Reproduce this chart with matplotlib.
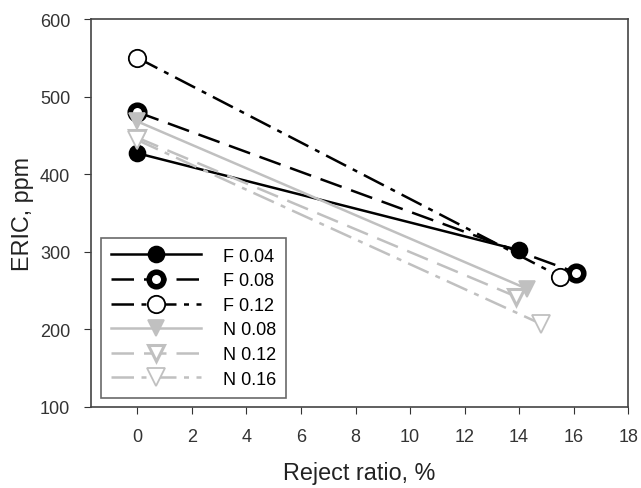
import numpy as np
import matplotlib.pyplot as plt

plt.rcParams['font.family'] = ['Liberation Sans', 'DejaVu Sans']

# 데이터
labels = ['F 0.04', 'F 0.08', 'F 0.12', 'N 0.08', 'N 0.12', 'N 0.16']
x_vals = [[0, 14.0], [0, 16.1], [0, 15.5], [0, 14.3], [0, 13.9], [0, 14.8]]
y_vals = [[427, 302], [480, 273], [550, 268], [468, 252], [447, 242], [444, 207]]

gray = '#c0c0c0'
styles = [
    dict(color='black', ls='-', marker='o', mfc='black', mec='black', ms=11.5, mew=1.2),
    dict(color='black', ls=(0, (9, 4)), marker='o', mfc='white', mec='black', ms=10.5, mew=4),
    dict(color='black', ls=(0, (9, 3, 2, 3)), marker='o', mfc='white', mec='black', ms=12.5, mew=1.3),
    dict(color=gray, ls='-', marker='v', mfc=gray, mec=gray, ms=11.5, mew=1.2),
    dict(color=gray, ls=(0, (9, 4)), marker='v', mfc='white', mec=gray, ms=11.5, mew=2.2),
    dict(color=gray, ls=(0, (9, 3, 2, 3)), marker='v', mfc='white', mec=gray, ms=12.5, mew=1.3),
]

fig = plt.figure(figsize=(6.41, 4.89), dpi=100)
ax = fig.add_axes([0.142, 0.166, 0.838, 0.793])

for xs, ys, lab, st in zip(x_vals, y_vals, labels, styles):
    ax.plot(xs, ys, label=lab, lw=1.8, **st)

ax.set_xlim(-1.7, 18)
ax.set_ylim(100, 600)
ax.set_xticks(np.arange(0, 19, 2))
ax.set_yticks(np.arange(100, 601, 100))
ax.tick_params(direction='out', length=5, labelsize=13, colors='#333333', pad=10)
for sp in ax.spines.values():
    sp.set_color('#444444')
    sp.set_linewidth(1.2)

ax.set_xlabel('Reject ratio, %', fontsize=16.8, color='#222222', labelpad=12)
ax.set_ylabel('ERIC, ppm', fontsize=16.8, color='#222222', labelpad=4)

leg = ax.legend(loc='lower left', bbox_to_anchor=(0.008, 0.01), fontsize=13,
                handlelength=5, handletextpad=1.2, labelspacing=0.42,
                frameon=True, fancybox=False, borderpad=0.55, borderaxespad=0.3)
leg.get_frame().set_edgecolor('#444444')
leg.get_frame().set_linewidth(1.2)

fig.savefig('out.png', dpi=100)
